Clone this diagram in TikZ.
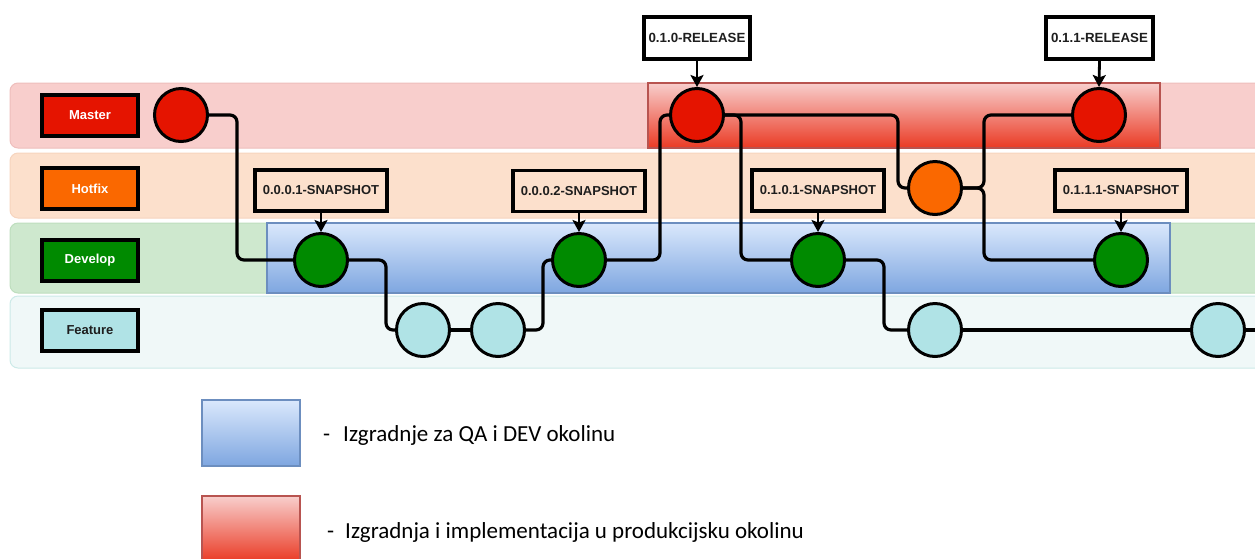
\documentclass[tikz,border=0pt]{standalone}
\usepackage{fontspec}
\newfontfamily\lblfont{Liberation Sans}
\newfontfamily\legfont{Carlito}
\usetikzlibrary{arrows.meta,shadings}
\pgfdeclarelayer{lanes}
\pgfdeclarelayer{links}
\pgfsetlayers{lanes,links,main}
\definecolor{laneM}{RGB}{248,206,204}
\definecolor{laneMb}{RGB}{238,190,188}
\definecolor{laneH}{RGB}{252,224,204}
\definecolor{laneHb}{RGB}{246,212,190}
\definecolor{laneD}{RGB}{206,232,206}
\definecolor{laneDb}{RGB}{190,222,190}
\definecolor{laneF}{RGB}{240,248,248}
\definecolor{laneFb}{RGB}{204,234,232}
\definecolor{cRed}{RGB}{229,20,0}
\definecolor{cOrange}{RGB}{250,104,0}
\definecolor{cGreen}{RGB}{0,138,0}
\definecolor{cCyan}{RGB}{176,227,230}
\definecolor{blueTop}{RGB}{218,232,252}
\definecolor{blueBot}{RGB}{126,166,224}
\definecolor{blueBorder}{RGB}{108,142,191}
\definecolor{redTop}{RGB}{248,206,204}
\definecolor{redBot}{RGB}{234,58,36}
\definecolor{redBorder}{RGB}{184,84,80}
\definecolor{ink}{RGB}{30,30,30}
\tikzset{
  lane/.style={rounded corners=8pt, line width=1pt},
  lanelabel/.style={draw=black, line width=3.8pt, minimum width=96pt, minimum height=41pt, inner sep=0pt, font=\lblfont\bfseries\fontsize{13}{15}\selectfont},
  commit/.style={circle, draw=black, line width=3pt, minimum size=53pt, inner sep=0pt},
  tagbox/.style={draw=black, line width=3.8pt, minimum height=41pt, inner sep=0pt, text=ink, font=\lblfont\bfseries\fontsize{13}{15}\selectfont},
  relbox/.style={tagbox, fill=white, minimum height=42pt, font=\lblfont\bfseries\fontsize{13.3}{15}\selectfont},
  conn/.style={draw=black, line width=3.2pt, rounded corners=7pt},
  tagarrow/.style={draw=black, line width=2.8pt, -{Stealth[length=12pt,width=13pt,inset=2.5pt]}},
  legtext/.style={anchor=west, inner sep=0pt, font=\legfont\fontsize{23}{27}\selectfont},
}
\begin{document}
\begin{tikzpicture}[x=1pt,y=-1pt]
\useasboundingbox (0,0) rectangle (1255,558);
\clip (0,0) rectangle (1255,558);
\begin{pgfonlayer}{lanes}
\draw[lane, draw=laneMb, fill=laneM] (10,83) rectangle (1280,148);
\draw[lane, draw=laneHb, fill=laneH] (10,153) rectangle (1280,218);
\draw[lane, draw=laneDb, fill=laneD] (10,223) rectangle (1280,293);
\draw[lane, draw=laneFb, fill=laneF] (10,296) rectangle (1280,368);
\shade[top color=blueTop, bottom color=blueBot] (267,223) rectangle (1170,293);
\draw[blueBorder, line width=2.2pt] (267,223) rectangle (1170,293);
\shade[top color=redTop, bottom color=redBot] (648,83) rectangle (1160,148);
\draw[redBorder, line width=2.2pt] (648,83) rectangle (1160,148);
\end{pgfonlayer}
% lane labels
\node[lanelabel, fill=cRed, text=white] (lm) at (90,115.5) {Master};
\node[lanelabel, fill=cOrange, text=white] (lh) at (90,188.5) {Hotfix};
\node[lanelabel, fill=cGreen, text=white] (ld) at (90,260.5) {Develop};
\node[lanelabel, fill=cCyan, text=ink] (lf) at (90,330.5) {Feature};
% commits
\node[commit, fill=cRed] (m1) at (181,115) {};
\node[commit, fill=cGreen] (d1) at (321,260) {};
\node[commit, fill=cCyan] (f1) at (423,330) {};
\node[commit, fill=cCyan] (f2) at (498,330) {};
\node[commit, fill=cGreen] (d2) at (579,260) {};
\node[commit, fill=cRed] (m2) at (697,115) {};
\node[commit, fill=cGreen] (d3) at (818,260) {};
\node[commit, fill=cOrange] (h1) at (935,188) {};
\node[commit, fill=cCyan] (f3) at (935,330) {};
\node[commit, fill=cRed] (m3) at (1099,115) {};
\node[commit, fill=cGreen] (d4) at (1121,260) {};
\node[commit, fill=cCyan] (f4) at (1218,330) {};
\coordinate (fend) at (1262,330);
% tags
\node[tagbox, minimum width=132pt] (t1) at (321,190.5) {0.0.0.1-SNAPSHOT};
\node[tagbox, minimum width=132pt] (t2) at (579,191) {0.0.0.2-SNAPSHOT};
\node[tagbox, minimum width=132pt] (t3) at (818,190.5) {0.1.0.1-SNAPSHOT};
\node[tagbox, minimum width=132pt] (t4) at (1121,190.5) {0.1.1.1-SNAPSHOT};
\node[relbox, minimum width=106pt] (r1) at (697,38) {0.1.0-RELEASE};
\node[relbox, minimum width=107pt] (r2) at (1099.5,38) {0.1.1-RELEASE};
% connectors
\begin{pgfonlayer}{links}
\draw[conn] (m1.east) -- ++(28,0) |- (d1.west);
\draw[conn] (d1.east) -- ++(37,0) |- (f1.west);
\draw[conn] (f1.east) -- (f2.west);
\draw[conn] (f2.east) -- ++(17,0) |- (d2.west);
\draw[conn] (d2.east) -- ++(53,0) |- (m2.west);
\draw[conn] (m2.east) -- ++(173,0) |- (h1.west);
\draw[conn] (m2.east) -- ++(16,0) |- (d3.west);
\draw[conn] (h1.east) -- ++(21,0) |- (m3.west);
\draw[conn] (h1.east) -- ++(21,0) |- (d4.west);
\draw[conn] (d3.east) -- ++(38,0) |- (f3.west);
\draw[conn] (f3.east) -- (f4.west);
\draw[conn] (f4.east) -- (fend);
\end{pgfonlayer}
% tag arrows
\draw[tagarrow] (t1.south) -- (d1.north);
\draw[tagarrow] (t2.south) -- (d2.north);
\draw[tagarrow] (t3.south) -- (d3.north);
\draw[tagarrow] (t4.south) -- (d4.north);
\draw[tagarrow] (r1.south) -- (m2.north);
\draw[tagarrow] (r2.south) -- (m3.north);
% legend
\shade[top color=blueTop, bottom color=blueBot] (202,400) rectangle (300,466);
\draw[blueBorder, line width=2.2pt] (202,400) rectangle (300,466);
\shade[top color=redTop, bottom color=redBot] (202,496) rectangle (300,562);
\draw[redBorder, line width=2.2pt] (202,496) rectangle (300,562);
\node[legtext] (lt1) at (323,435) {-\hspace{13pt}Izgradnje za QA i DEV okolinu};
\node[legtext] (lt2) at (327,532) {-\hspace{11pt}Izgradnja i implementacija u produkcijsku okolinu};
\end{tikzpicture}
\end{document}
